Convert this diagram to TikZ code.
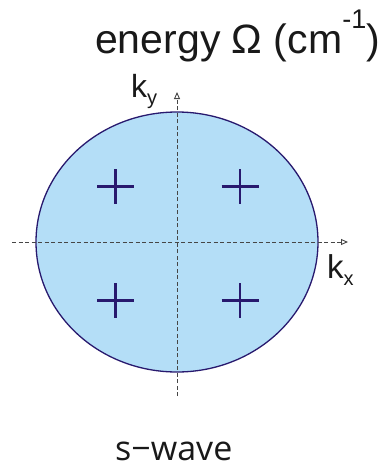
\documentclass[tikz,border=0pt]{standalone}
\usepackage{fontspec}
\setmainfont{Liberation Sans}
\newfontfamily\swfont{Open Sans}
\usetikzlibrary{arrows.meta}
\definecolor{fillblue}{RGB}{180,222,247}
\definecolor{edgeblue}{RGB}{40,25,110}
\definecolor{axisgray}{RGB}{70,70,70}
\definecolor{txt}{RGB}{25,25,25}
\tikzset{
  axisline/.style={draw=axisgray, line width=0.9pt, dash pattern=on 4pt off 2.5pt,
    -{Triangle[open,length=7pt,width=6pt]}},
  plussign/.style={draw=edgeblue, line width=2.8pt},
  lbl/.style={inner sep=0pt, text=txt},
}
\begin{document}
\begin{tikzpicture}[x=1pt,y=-1pt]
\useasboundingbox (0,0) rectangle (390,467);
% ellipse
\fill[fillblue, draw=edgeblue, line width=1.3pt] (177,242) ellipse [x radius=141, y radius=130];
% axes
\coordinate (xs) at (12,242);
\coordinate (xe) at (348,242);
\coordinate (ys) at (177,396);
\coordinate (ye) at (177,92);
\draw[axisline] (xs) -- (xe);
\draw[axisline] (ys) -- (ye);
% plus signs
\foreach \cx/\cy in {115.5/186.5, 240/186.5, 115.5/300.5, 240/300.5}{
  \draw[plussign] (\cx-18.5,\cy) -- (\cx+18.5,\cy);
  \draw[plussign] (\cx,\cy-17.5) -- (\cx,\cy+17.5);
}
% labels
\node[lbl, anchor=base west, font=\fontsize{41}{45}\selectfont] (title) at (95,53)
  {energy Ω (cm\raisebox{0.6em}{\fontsize{27}{29}\selectfont -1})};
\node[lbl, anchor=base west, font=\fontsize{32}{36}\selectfont] (ky) at (131,97)
  {k\raisebox{-0.22em}{\fontsize{20}{22}\selectfont y}};
\node[lbl, anchor=base west, font=\fontsize{33}{36}\selectfont] (kx) at (327,278)
  {k\raisebox{-0.22em}{\fontsize{20}{22}\selectfont x}};
\node[lbl, anchor=base west, font=\swfont\fontsize{34}{38}\selectfont] (sw) at (115,460)
  {s−wave};
\end{tikzpicture}
\end{document}
